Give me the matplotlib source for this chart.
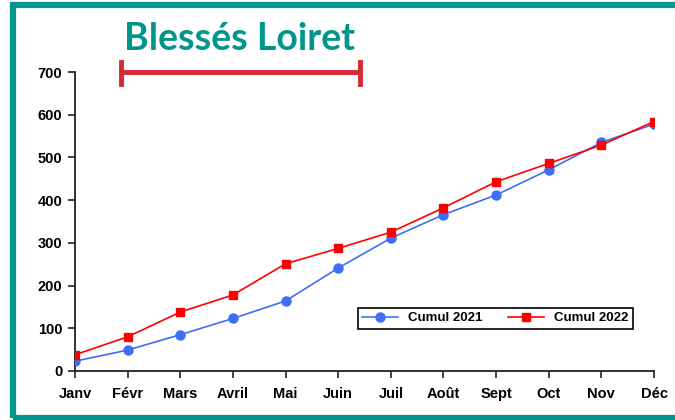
import matplotlib.pyplot as plt
from matplotlib.patches import Rectangle
from matplotlib.lines import Line2D

mois = ['Janv', 'Févr', 'Mars', 'Avril', 'Mai', 'Juin', 'Juil', 'Août', 'Sept', 'Oct', 'Nov', 'Déc']
cumul_2021 = [23, 49, 85, 123, 164, 241, 311, 366, 412, 471, 535, 578]
cumul_2022 = [38, 80, 138, 178, 251, 287, 325, 382, 443, 486, 529, 584]

bleu = '#3d6ef5'
rouge = '#ff0000'
teal = '#00968c'

plt.rcParams['font.family'] = ['Liberation Sans', 'DejaVu Sans']

fig = plt.figure(figsize=(6.75, 4.2), dpi=100)
ax = fig.add_axes([75 / 675, 1 - 371 / 420, 579 / 675, 299 / 420])

x = range(len(mois))
ax.plot(x, cumul_2021, '-o', color=bleu, lw=1.2, ms=6.5, label='Cumul 2021', zorder=3)
ax.plot(x, cumul_2022, '-s', color=rouge, lw=1.2, ms=6, label='Cumul 2022', zorder=4)

ax.set_xlim(0, len(mois) - 1)
ax.set_ylim(0, 700)
ax.set_yticks(range(0, 701, 100))
ax.set_xticks(list(x))
ax.set_xticklabels(mois)
for s in ['top', 'right']:
    ax.spines[s].set_visible(False)
for s in ['left', 'bottom']:
    ax.spines[s].set_linewidth(1.3)
    ax.spines[s].set_color('#222222')
    ax.spines[s].set_clip_on(False)
ax.tick_params(axis='both', direction='out', length=5, width=1.2, color='#222222',
               labelsize=10.5, pad=4)
ax.tick_params(axis='x', pad=14.5)
for lab in ax.get_xticklabels() + ax.get_yticklabels():
    lab.set_fontweight('bold')
for lab in ax.get_xticklabels():
    lab.set_verticalalignment('baseline')

leg = ax.legend(loc='center', bbox_to_anchor=(0.726, 0.176), ncol=2, fancybox=False,
                edgecolor='black', framealpha=1, prop={'weight': 'bold', 'size': 9.5},
                handlelength=2.7, handletextpad=0.8, columnspacing=1.9, borderpad=0.35)
leg.get_frame().set_linewidth(1.2)

# titre et barre rouge
fig.text(239 / 675, 1 - 39 / 420, 'Blessés Loiret', ha='center', va='center',
         fontsize=27, fontweight='bold', color=teal, family=['Lato', 'DejaVu Sans'])
y_bar = 1 - 72 / 420
fig.add_artist(Line2D([121 / 675, 360 / 675], [y_bar, y_bar], color='#d42a34', lw=3.5))
for xb in (121 / 675, 360 / 675):
    fig.add_artist(Line2D([xb, xb], [1 - 62 / 420, 1 - 84 / 420], color='#d42a34', lw=3.5))

# cadre
fig.add_artist(Rectangle((13 / 675, 2 / 420), 700 / 675, 413 / 420, transform=fig.transFigure,
                         fill=False, edgecolor=teal, lw=4.5))

fig.savefig('out.png', dpi=100)
